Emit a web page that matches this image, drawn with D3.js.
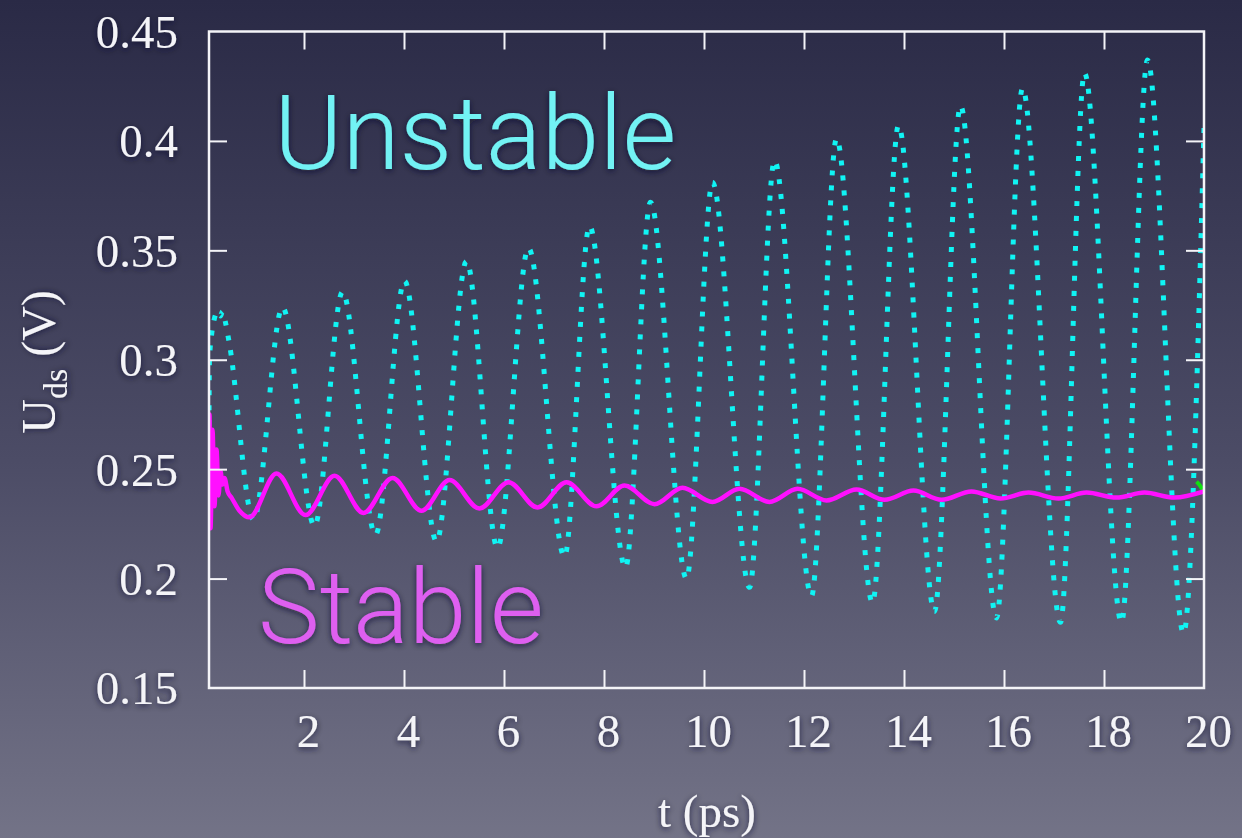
<!DOCTYPE html>
<html>
<head>
<meta charset="utf-8">
<script src="https://cdn.jsdelivr.net/npm/d3@7"></script>
<style>
  html, body { margin: 0; padding: 0; overflow: hidden; }
  body { width: 1242px; height: 838px; }
</style>
</head>
<body>
<div class="chart"></div>
<script>
// unstable run (dotted cyan): peaks and troughs
var unstableT = [0.1, 0.11, 0.15, 0.21, 0.27, 0.33, 0.37, 0.43, 0.51, 0.99, 1.57, 2.21, 2.77, 3.43, 4.01, 4.65, 5.25, 5.87, 6.49, 7.21,
  7.71, 8.43, 8.93, 9.65, 10.17, 10.91, 11.41, 12.15, 12.65, 13.37, 13.89, 14.61, 15.13, 15.85, 16.37, 17.13, 17.61, 18.35, 18.87, 19.59, 20];
var unstableV = [0.270, 0.300, 0.311, 0.319, 0.322, 0.320, 0.322, 0.317, 0.307, 0.227, 0.324, 0.224, 0.331, 0.220, 0.336, 0.217, 0.345, 0.214, 0.351, 0.210,
  0.361, 0.205, 0.372, 0.200, 0.381, 0.196, 0.391, 0.192, 0.401, 0.189, 0.407, 0.185, 0.416, 0.182, 0.424, 0.180, 0.431, 0.180, 0.437, 0.175, 0.406];

// stable run (solid magenta)
var stableT = [0.1, 0.11, 0.13, 0.17, 0.21, 0.25, 0.29, 0.33, 0.37, 0.41, 0.47, 0.55, 0.71, 0.91, 1.45, 2.03, 2.61, 3.19, 3.77, 4.35,
  4.91, 5.51, 6.09, 6.67, 7.25, 7.85, 8.41, 9.01, 9.57, 10.17, 10.71, 11.31, 11.87, 12.45, 13.05, 13.61, 14.19, 14.75, 15.35, 15.93,
  16.49, 17.09, 17.65, 18.25, 18.81, 19.41, 20];
var stableV = [0.259, 0.275, 0.223, 0.268, 0.233, 0.259, 0.238, 0.249, 0.243, 0.246, 0.240, 0.237, 0.231, 0.228, 0.248, 0.229, 0.247, 0.230, 0.246, 0.231,
  0.245, 0.232, 0.244, 0.2325, 0.244, 0.233, 0.2425, 0.234, 0.2415, 0.235, 0.241, 0.235, 0.241, 0.2357, 0.2407, 0.236, 0.2402, 0.236, 0.2398, 0.2366,
  0.2393, 0.2366, 0.2393, 0.237, 0.2393, 0.237, 0.2398];

// short green piece at the right edge
var thirdT = [19.85, 19.92, 19.98];
var thirdV = [0.2443, 0.2425, 0.2402];

var xTicks = [2, 4, 6, 8, 10, 12, 14, 16, 18, 20];
var yTicks = [0.15, 0.2, 0.25, 0.3, 0.35, 0.4, 0.45];

var W = 1242, H = 838;
var margin = {top: 31.5, right: 38, bottom: 150, left: 209};
var width = W - margin.left - margin.right;
var height = H - margin.top - margin.bottom;

var svg = d3.select(".chart").append("svg")
    .attr("width", W)
    .attr("height", H);

var defs = svg.append("defs");
var grad = defs.append("linearGradient")
    .attr("id", "bg")
    .attr("x1", 0).attr("y1", 0).attr("x2", 0).attr("y2", 1);
grad.append("stop").attr("offset", "0%").attr("stop-color", "#2a2a46");
grad.append("stop").attr("offset", "55%").attr("stop-color", "#4c4c66");
grad.append("stop").attr("offset", "100%").attr("stop-color", "#737387");

var shadow = defs.append("filter").attr("id", "sh")
    .attr("x", "-20%").attr("y", "-20%").attr("width", "140%").attr("height", "140%");
shadow.append("feDropShadow")
    .attr("dx", 0).attr("dy", 2).attr("stdDeviation", 3)
    .attr("flood-color", "#15152a").attr("flood-opacity", 0.7);

svg.append("rect")
    .attr("width", W).attr("height", H)
    .attr("fill", "url(#bg)");

var g = svg.append("g")
    .attr("transform", "translate(" + margin.left + "," + margin.top + ")");

var x = d3.scaleLinear()
    .domain([0.1, 20])
    .range([0, width]);

var y = d3.scaleLinear()
    .domain([0.15, 0.45])
    .range([height, 0]);

defs.append("clipPath").attr("id", "clip")
  .append("rect").attr("width", width).attr("height", height);

// texts inside the frame
g.append("text")
    .attr("x", 65).attr("y", 137)
    .attr("fill", "#72f2f4")
    .attr("filter", "url(#sh)")
    .style("font-family", "Roboto, 'Liberation Sans', sans-serif")
    .style("font-weight", 300)
    .style("font-size", "104px")
    .text("Unstable");

g.append("text")
    .attr("x", 49).attr("y", 611)
    .attr("fill", "#de5ff0")
    .attr("filter", "url(#sh)")
    .style("font-family", "Roboto, 'Liberation Sans', sans-serif")
    .style("font-weight", 300)
    .style("font-size", "104px")
    .text("Stable");

var line = d3.line()
    .curve(d3.curveMonotoneX)
    .x(function(d) { return x(d[0]); })
    .y(function(d) { return y(d[1]); });

var plot = g.append("g").attr("clip-path", "url(#clip)");

plot.append("path")
    .datum(unstableT.map(function(t, i) { return [t, unstableV[i]]; }))
    .attr("d", line)
    .attr("fill", "none")
    .attr("stroke", "#10f4f4")
    .attr("stroke-width", 5)
    .attr("stroke-dasharray", "5,10");

plot.append("path")
    .datum(thirdT.map(function(t, i) { return [t, thirdV[i]]; }))
    .attr("d", line)
    .attr("fill", "none")
    .attr("stroke", "#10e010")
    .attr("stroke-width", 4);

plot.append("path")
    .datum(stableT.map(function(t, i) { return [t, stableV[i]]; }))
    .attr("d", line)
    .attr("fill", "none")
    .attr("stroke", "#ff10ff")
    .attr("stroke-width", 4.5)
    .attr("stroke-linejoin", "round");

// axes: ticks inside, mirrored on top and right
var tickLen = 18;
var axisColor = "#f4f4f8";

var xBottom = g.append("g")
    .attr("transform", "translate(0," + height + ")")
    .call(d3.axisBottom(x).tickValues(xTicks).tickSize(-tickLen).tickPadding(26).tickFormat(d3.format("d")));
var xTop = g.append("g")
    .call(d3.axisTop(x).tickValues(xTicks).tickSize(-tickLen).tickFormat(""));
var yLeft = g.append("g")
    .call(d3.axisLeft(y).tickValues(yTicks).tickSize(-tickLen).tickPadding(31).tickFormat(function(d) { return d3.format("")(+d.toFixed(2)); }));
var yRight = g.append("g")
    .attr("transform", "translate(" + width + ",0)")
    .call(d3.axisRight(y).tickValues(yTicks).tickSize(-tickLen).tickFormat(""));

[xBottom, xTop, yLeft, yRight].forEach(function(a) {
  a.select(".domain").remove();
  a.selectAll(".tick line").attr("stroke", axisColor).attr("stroke-width", 2);
  a.selectAll("text")
    .attr("fill", axisColor)
    .attr("filter", "url(#sh)")
    .style("font-family", "'Liberation Serif', 'DejaVu Serif', serif")
    .style("font-size", "47px");
});
xBottom.selectAll("text").attr("dx", 4).attr("dy", "0.71em");
yLeft.selectAll("text").attr("dy", "0.34em");
// the 0.15 / 0.45 ticks sit on the frame itself
yLeft.selectAll(".tick line").filter(function(d) { return d == 0.15 || d == 0.45; }).remove();
yRight.selectAll(".tick line").filter(function(d) { return d == 0.15 || d == 0.45; }).remove();
xBottom.selectAll(".tick line").filter(function(d) { return d == 20; }).remove();
xTop.selectAll(".tick line").filter(function(d) { return d == 20; }).remove();

g.append("rect")
    .attr("width", width).attr("height", height)
    .attr("fill", "none")
    .attr("stroke", axisColor)
    .attr("stroke-width", 2.5);

// axis titles
svg.append("text")
    .attr("x", 707).attr("y", 827)
    .attr("text-anchor", "middle")
    .attr("fill", axisColor)
    .attr("filter", "url(#sh)")
    .style("font-family", "'Liberation Serif', serif")
    .style("font-size", "47px")
    .text("t (ps)");

var ylab = svg.append("text")
    .attr("transform", "translate(55,362) rotate(-90)")
    .attr("text-anchor", "middle")
    .attr("fill", axisColor)
    .attr("filter", "url(#sh)")
    .style("font-family", "'Liberation Serif', serif")
    .style("font-size", "48px");
ylab.append("tspan").text("U");
ylab.append("tspan").attr("dy", 12).style("font-size", "34px").text("ds");
ylab.append("tspan").attr("dy", -12).text(" (V)");
</script>
</body>
</html>
